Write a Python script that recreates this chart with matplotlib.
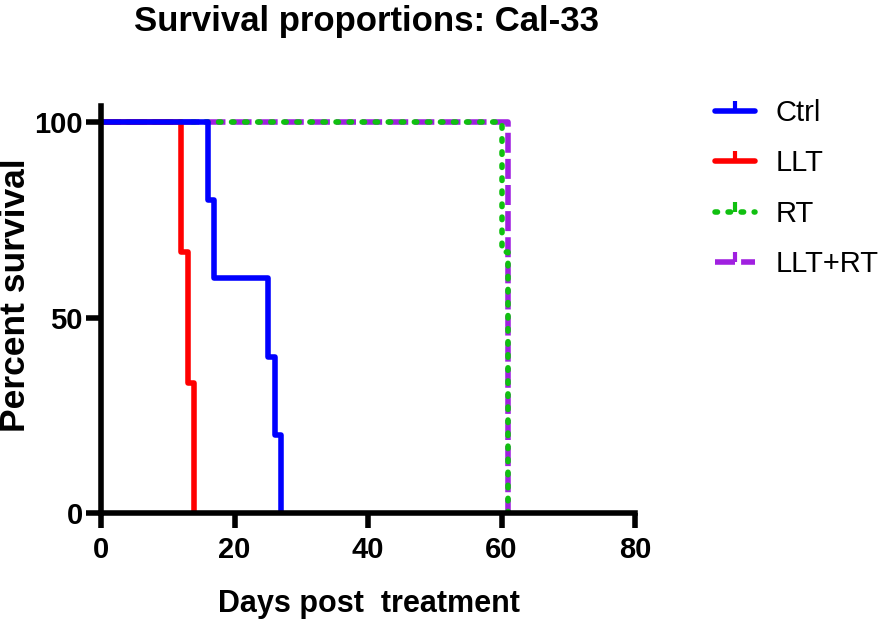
import matplotlib
matplotlib.use("Agg")
import matplotlib.pyplot as plt
from matplotlib.lines import Line2D
from matplotlib import font_manager as fm

# ---- data ----
ctrl_days = [0, 16, 17, 25, 26, 27]
ctrl_surv = [100, 80, 60, 40, 20, 0]
llt_days = [0, 12, 13, 14]
llt_surv = [100, 66.67, 33.33, 0]
rt_days = [0, 60, 61]
rt_surv = [100, 66.67, 0]
combo_days = [0, 61]
combo_surv = [100, 0]

series_names = ["Ctrl", "LLT", "RT", "LLT+RT"]
x_ticks = [0, 20, 40, 60, 80]
y_ticks = [0, 50, 100]

title = "Survival proportions: Cal-33"
xlabel = "Days post  treatment"
ylabel = "Percent survival"

# ---- fonts ----
names = {f.name for f in fm.fontManager.ttflist}
main_font = ["Liberation Sans", "DejaVu Sans"]
tick_font = (["Liberation Sans Narrow"] if "Liberation Sans Narrow" in names else []) + main_font
plt.rcParams["font.family"] = main_font

BLUE = "#0000FF"
RED = "#FF0000"
GREEN = "#10C010"
PURPLE = "#A020E0"
LW = 4.0
DOT = (0, (0.45, 1.9))
DASH = (0, (3.6, 1.1))

fig = plt.figure(figsize=(8.85, 6.25), dpi=100)
ax = fig.add_axes([101 / 885, 1 - 513 / 625, (635 - 101) / 885, (513 - 106.4) / 625])

ax.step(combo_days, combo_surv, where="post", color=PURPLE, lw=LW,
        linestyle=DASH, dash_capstyle="butt", zorder=2)
ax.step(rt_days, rt_surv, where="post", color=GREEN, lw=LW,
        linestyle=DOT, dash_capstyle="round", zorder=3)
ax.step(llt_days, llt_surv, where="post", color=RED, lw=LW, zorder=4)
ax.step(ctrl_days, ctrl_surv, where="post", color=BLUE, lw=LW, zorder=5)

ax.set_xlim(0, 80)
ax.set_ylim(0, 104)
ax.set_xticks(x_ticks)
ax.set_yticks(y_ticks)
for s in ["top", "right"]:
    ax.spines[s].set_visible(False)
for s in ["left", "bottom"]:
    ax.spines[s].set_linewidth(4)
    ax.spines[s].set_zorder(6)
ax.tick_params(axis="both", direction="out", length=10.5, width=4, labelsize=21)
ax.tick_params(axis="x", pad=6)
ax.tick_params(axis="y", pad=2.5)
for lab in ax.get_xticklabels() + ax.get_yticklabels():
    lab.set_fontfamily(tick_font)
    lab.set_fontweight("bold")

fig.text(367 / 885, 1 - 31 / 625, title, ha="center", va="baseline",
         fontsize=25, fontweight="bold")
fig.text(368.5 / 885, 1 - 612 / 625, xlabel, ha="center", va="baseline",
         fontsize=22, fontweight="bold")
fig.text(25 / 885, 1 - 295 / 625, ylabel, ha="center", va="baseline",
         rotation=90, rotation_mode="anchor", fontsize=25.5, fontweight="bold")

handles = [
    Line2D([], [], color=BLUE, lw=LW, marker=2, markersize=7, markeredgewidth=3),
    Line2D([], [], color=RED, lw=LW, marker=2, markersize=7, markeredgewidth=3),
    Line2D([], [], color=GREEN, lw=LW, linestyle=DOT, dash_capstyle="round",
           marker=2, markersize=7, markeredgewidth=3),
    Line2D([], [], color=PURPLE, lw=LW, linestyle=DASH,
           marker=2, markersize=7, markeredgewidth=3),
]
for h in handles:
    h.set_solid_capstyle("round")
fig.legend(handles, series_names, loc="upper left", bbox_to_anchor=(715 / 885, 1 - 99 / 625),
           frameon=False, fontsize=21, handlelength=1.38, handletextpad=0.69,
           labelspacing=0.77, borderpad=0, borderaxespad=0, numpoints=1)

fig.savefig("out.png", dpi=100)
